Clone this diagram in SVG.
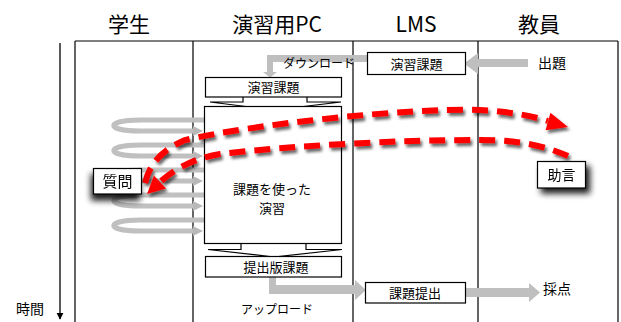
<svg xmlns="http://www.w3.org/2000/svg" width="621" height="322" viewBox="0 0 621 322">
<style>
text{font-family:"Noto Sans CJK JP","Noto Sans",sans-serif;fill:#000}
.hd{font-size:21px;text-anchor:middle}
.t{font-size:13px;text-anchor:middle}
.s{font-size:12px}
.ln{stroke:#000;stroke-width:1.2;fill:none}
.box{fill:#fff;stroke:#000;stroke-width:1.2}
.gray{fill:#bfbfbf}
.loop{fill:none;stroke:#c0c0c0;stroke-width:5;marker-end:url(#lh)}
.red{fill:none;stroke:#ff0000;stroke-width:6;stroke-dasharray:16 9}
</style>
<defs>
<marker id="lh" markerUnits="userSpaceOnUse" viewBox="0 0 10 10" refX="2" refY="5" markerWidth="10" markerHeight="11" orient="auto">
<path d="M0,0 L10,5 L0,10 z" fill="#b8b8b8"/>
</marker>
<marker id="ta" markerUnits="userSpaceOnUse" viewBox="0 0 10 10" refX="9" refY="5" markerWidth="7" markerHeight="8" orient="auto">
<path d="M0,0 L10,5 L0,10 z" fill="#000"/>
</marker>
<filter id="sh" x="-20%" y="-30%" width="140%" height="170%">
<feGaussianBlur in="SourceAlpha" stdDeviation="1.6"/>
<feOffset dx="2" dy="3" result="b"/>
<feComponentTransfer><feFuncA type="linear" slope="0.6"/></feComponentTransfer>
<feMerge><feMergeNode/><feMergeNode in="SourceGraphic"/></feMerge>
</filter>
<filter id="bsh" x="-40%" y="-40%" width="190%" height="210%">
<feGaussianBlur in="SourceAlpha" stdDeviation="3"/>
<feOffset dx="4" dy="5"/>
<feComponentTransfer><feFuncA type="linear" slope="0.9"/></feComponentTransfer>
<feMerge><feMergeNode/><feMergeNode in="SourceGraphic"/></feMerge>
</filter>
<filter id="bsh2" x="-40%" y="-40%" width="190%" height="220%">
<feGaussianBlur in="SourceAlpha" stdDeviation="3"/>
<feOffset dx="-2" dy="6"/>
<feComponentTransfer><feFuncA type="linear" slope="0.9"/></feComponentTransfer>
<feMerge><feMergeNode/><feMergeNode in="SourceGraphic"/></feMerge>
</filter>
</defs>

<g id="headers">
<text class="hd" x="129" y="32">学生</text>
<text class="hd" x="277" y="32">演習用PC</text>
<text class="hd" x="416" y="32">LMS</text>
<text class="hd" x="539" y="32">教員</text>
</g>

<g id="frame">
<path class="ln" d="M75,41 H618 M75,41 V322 M193,41 V322 M353,41 V322 M478,41 V322 M618,41 V322"/>
</g>

<g id="time-axis">
<line x1="60" y1="43" x2="60" y2="319" stroke="#000" stroke-width="1.3" marker-end="url(#ta)"/>
<text x="30" y="314" font-size="14" text-anchor="middle">時間</text>
</g>

<g id="connectors">
<path class="gray" d="M528,59 H478 V53 L464,63.5 L478,74 V67 H528 z"/>
<path class="gray" d="M367,55 H267 V72 H263 L270,77.5 L277,72 H273 V62 H367 z"/>
<path class="gray" d="M269,277 V294 H355 V300 L366,290 L355,280 V285 H276 V277 z"/>
<path class="gray" d="M466,288 H529 V283 L540,292.5 L529,302 V297 H466 z"/>
<path class="box" d="M243,97 V102 H210 L274,110 L341,102 H307 V97"/>
<path class="box" d="M241,243 V249.5 H208 L274,257 L342,249.5 H306 V243"/>
<path class="loop" d="M205,120 H140 C105,120 105,131 140,131 H195"/>
<path class="loop" d="M205,145 H140 C105,145 105,156 140,156 H195"/>
<path class="loop" d="M205,170 H140 C105,170 105,181 140,181 H195"/>
<path class="loop" d="M205,195 H140 C105,195 105,206 140,206 H195"/>
<path class="loop" d="M205,220 H140 C105,220 105,231 140,231 H195"/>
</g>

<g id="lms-task">
<rect class="box" x="367.5" y="52.5" width="98" height="22"/>
<text class="t" x="416.5" y="68.5" font-size="14.5">演習課題</text>
</g>
<text id="dl-label" class="s" x="283" y="67.5">ダウンロード</text>
<text id="shutsudai" x="552" y="68" font-size="14" text-anchor="middle">出題</text>

<g id="pc-task">
<rect class="box" x="205.5" y="77.5" width="136" height="19.5"/>
<text class="t" x="273.5" y="92">演習課題</text>
</g>

<g id="pc-work">
<rect class="box" x="204.5" y="106.5" width="137" height="137"/>
<text class="t" x="272" y="194" font-size="12.5">課題を使った</text>
<text class="t" x="272" y="213" font-size="12.5">演習</text>
</g>

<g id="pc-submit">
<rect class="box" x="205.5" y="256.5" width="136" height="20.5"/>
<text class="t" x="276" y="272" font-size="15">提出版課題</text>
</g>

<text id="ul-label" class="s" x="277" y="314" text-anchor="middle">アップロード</text>

<g id="lms-submit">
<rect class="box" x="365.5" y="282.5" width="100" height="20.5"/>
<text class="t" x="415" y="298" font-size="14">課題提出</text>
</g>
<text id="saiten" x="557" y="294" font-size="14" text-anchor="middle">採点</text>

<g id="red-arrows" filter="url(#sh)">
<path class="red" d="M145,183 C150,163 162,150 185,140 C250,125 400,108 480,110 C515,112 535,117 548,121"/>
<polygon fill="#ff0000" points="568,127 550.4,112.8 545.6,130.2"/>
<path class="red" d="M568,156 C545,146 520,140 480,140 C400,140 300,145 220,154 C195,158 176,168 160,182"/>
<polygon fill="#ff0000" points="147,194 166.1,188.6 153.9,175.4"/>
</g>

<g id="question" filter="url(#bsh2)">
<rect class="box" x="93.5" y="168.5" width="48" height="25.5"/>
<text x="117.5" y="187" font-size="15" text-anchor="middle">質問</text>
</g>

<g id="advice" filter="url(#bsh)">
<rect class="box" x="537.5" y="161.5" width="48" height="26.5"/>
<text x="561.5" y="179.5" font-size="14" text-anchor="middle">助言</text>
</g>
</svg>
